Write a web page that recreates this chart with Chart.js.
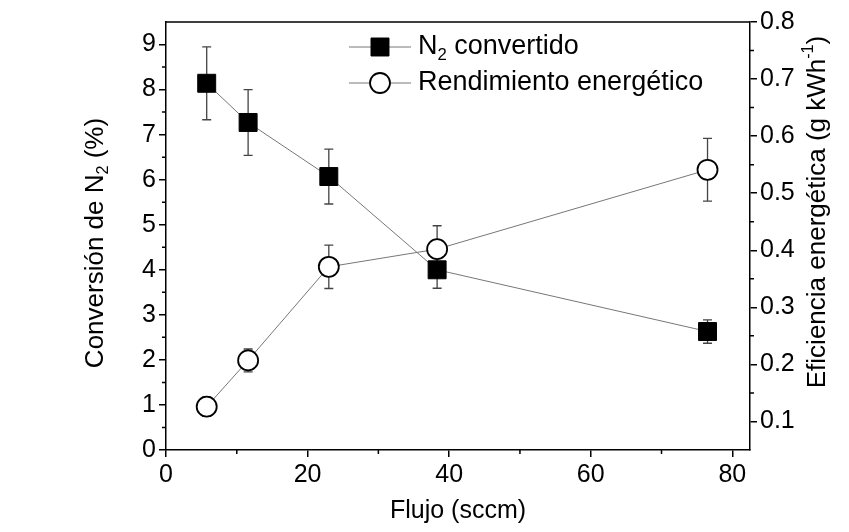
<!DOCTYPE html>
<html>
<head>
<meta charset="utf-8">
<script src="https://cdn.jsdelivr.net/npm/chart.js@4"></script>
<style>
  body { margin: 0; background: #fff; }
  #wrap { width: 849px; height: 532px; }
</style>
</head>
<body>
<div id="wrap"><canvas id="chartFlujo"></canvas></div>
<script>
// values
const flujo = [5.75, 11.6, 23.0, 38.3, 76.5];
const conversion = [8.14, 7.27, 6.07, 4.00, 2.63];
const conversionErr = [0.81, 0.73, 0.61, 0.41, 0.26];
const rendimiento = [0.126, 0.207, 0.371, 0.402, 0.541];
const rendimientoErr = [0.017, 0.020, 0.038, 0.041, 0.055];

const xTicks = [0, 20, 40, 60, 80];
const leftTicks = [0, 1, 2, 3, 4, 5, 6, 7, 8, 9];
const rightTicks = [0.1, 0.2, 0.3, 0.4, 0.5, 0.6, 0.7, 0.8];

const FONT = "'Liberation Sans', Arial, sans-serif";
const tickFont = { family: FONT, size: 25 };

function midpoints(arr) {
    const out = [];
    for (let i = 0; i < arr.length - 1; i++) out.push((arr[i] + arr[i + 1]) / 2);
    return out;
}

// text with sub/superscripts, centred on x
function drawRich(ctx, parts, x, y, size) {
    const widths = parts.map(p => {
        ctx.font = (p.sub || p.sup ? size * 0.62 : size) + "px " + FONT;
        return ctx.measureText(p.t).width;
    });
    let cx = x - widths.reduce((a, b) => a + b, 0) / 2;
    parts.forEach((p, i) => {
        ctx.font = (p.sub || p.sup ? size * 0.62 : size) + "px " + FONT;
        let dy = 0;
        if (p.sub) dy = size * 0.3;
        if (p.sup) dy = -size * 0.38;
        ctx.fillText(p.t, cx, y + dy);
        cx += widths[i];
    });
}

const framePlugin = {
    id: "frame",
    beforeDatasetsDraw(chart) {
        const ctx = chart.ctx;
        const errs = [conversionErr, rendimientoErr];
        ctx.save();
        chart.data.datasets.forEach((ds, di) => {
            const ys = chart.scales[ds.yAxisID];
            ctx.strokeStyle = "#444";
            ctx.lineWidth = 1.3;
            ds.data.forEach((p, i) => {
                const e = errs[di][i];
                const px = chart.scales.x.getPixelForValue(p.x);
                const top = ys.getPixelForValue(p.y + e);
                const bot = ys.getPixelForValue(p.y - e);
                ctx.beginPath();
                ctx.moveTo(px, top); ctx.lineTo(px, bot);
                ctx.moveTo(px - 4.5, top); ctx.lineTo(px + 4.5, top);
                ctx.moveTo(px - 4.5, bot); ctx.lineTo(px + 4.5, bot);
                ctx.stroke();
            });
        });
        ctx.restore();
    },
    afterDraw(chart) {
        const ctx = chart.ctx;
        const a = chart.chartArea;
        const { x, y, y1 } = chart.scales;
        ctx.save();
        ctx.strokeStyle = "#000";
        ctx.lineWidth = 1.5;
        ctx.beginPath();
        ctx.moveTo(a.left, a.top); ctx.lineTo(a.right, a.top);
        // minor ticks
        midpoints(xTicks).forEach(v => {
            const px = x.getPixelForValue(v);
            ctx.moveTo(px, a.bottom); ctx.lineTo(px, a.bottom + 4);
        });
        midpoints(leftTicks).forEach(v => {
            const py = y.getPixelForValue(v);
            ctx.moveTo(a.left, py); ctx.lineTo(a.left - 4, py);
        });
        midpoints(rightTicks).forEach(v => {
            const py = y1.getPixelForValue(v);
            ctx.moveTo(a.right, py); ctx.lineTo(a.right + 4, py);
        });
        ctx.stroke();

        // axis titles
        ctx.fillStyle = "#000";
        ctx.textBaseline = "middle";
        ctx.textAlign = "left";
        drawRich(ctx, [{ t: "Flujo (sccm)" }], (a.left + a.right) / 2, 511, 25);
        ctx.save();
        ctx.translate(96, 243);
        ctx.rotate(-Math.PI / 2);
        drawRich(ctx, [{ t: "Conversión de N" }, { t: "2", sub: true }, { t: " (%)" }], 0, 0, 26);
        ctx.restore();
        ctx.save();
        ctx.translate(818, 212);
        ctx.rotate(-Math.PI / 2);
        drawRich(ctx, [{ t: "Eficiencia energética (g kWh" }, { t: "-1", sup: true }, { t: ")" }], 0, 0, 26);
        ctx.restore();

        // legend: line through symbol
        const rows = [
            [{ t: "N" }, { t: "2", sub: true }, { t: " convertido" }],
            [{ t: "Rendimiento energético" }]
        ];
        chart.data.datasets.forEach((ds, i) => {
            const ly = 47 + i * 36;
            const sx = 380;
            ctx.strokeStyle = "#777";
            ctx.lineWidth = 1;
            ctx.beginPath();
            ctx.moveTo(sx - 31, ly); ctx.lineTo(sx + 31, ly);
            ctx.stroke();
            ctx.fillStyle = ds.pointBackgroundColor;
            ctx.strokeStyle = ds.pointBorderColor;
            ctx.lineWidth = ds.pointBorderWidth;
            ctx.beginPath();
            if (ds.pointStyle === "rect") {
                const h = ds.pointRadius * Math.SQRT1_2;
                ctx.rect(sx - h, ly - h, 2 * h, 2 * h);
            } else {
                ctx.arc(sx, ly, ds.pointRadius, 0, Math.PI * 2);
            }
            ctx.fill();
            ctx.stroke();
            ctx.fillStyle = "#000";
            ctx.textAlign = "left";
            let cx = 418;
            rows[i].forEach(p => {
                const size = p.sub ? 27 * 0.62 : 27;
                ctx.font = size + "px " + FONT;
                ctx.fillText(p.t, cx, ly + (p.sub ? 8 : 0));
                cx += ctx.measureText(p.t).width;
            });
        });
        ctx.restore();
    }
};

const axisCommon = {
    border: { display: true, color: "#000", width: 1.5 },
    grid: { drawOnChartArea: false, drawTicks: true, tickLength: 7, color: "#000", lineWidth: 1.5 },
    ticks: { color: "#000", font: tickFont, padding: 3, callback: v => String(v) }
};

new Chart(document.getElementById("chartFlujo"), {
    type: "line",
    data: {
        datasets: [
            {
                label: "N2 convertido",
                data: flujo.map((f, i) => ({ x: f, y: conversion[i] })),
                yAxisID: "y",
                borderColor: "#777",
                borderWidth: 1,
                pointStyle: "rect",
                pointRadius: 12.7,
                pointBackgroundColor: "#000",
                pointBorderColor: "#000",
                pointBorderWidth: 1,
                tension: 0
            },
            {
                label: "Rendimiento energético",
                data: flujo.map((f, i) => ({ x: f, y: rendimiento[i] })),
                yAxisID: "y1",
                borderColor: "#777",
                borderWidth: 1,
                pointStyle: "circle",
                pointRadius: 10,
                pointBackgroundColor: "#fff",
                pointBorderColor: "#000",
                pointBorderWidth: 1.8,
                tension: 0
            }
        ]
    },
    options: {
        responsive: true,
        maintainAspectRatio: false,
        animation: false,
        layout: { padding: { top: 22, left: 0, right: 0, bottom: 0 } },
        plugins: { legend: { display: false }, tooltip: { enabled: false } },
        scales: {
            x: {
                ...axisCommon,
                type: "linear",
                position: "bottom",
                min: 0,
                max: 82.5,
                afterBuildTicks: s => { s.ticks = xTicks.map(v => ({ value: v })); },
                afterFit: s => { s.height = 82; }
            },
            y: {
                ...axisCommon,
                position: "left",
                min: 0,
                max: 9.5,
                afterBuildTicks: s => { s.ticks = leftTicks.map(v => ({ value: v })); },
                afterFit: s => { s.width = 166; }
            },
            y1: {
                ...axisCommon,
                position: "right",
                min: 0.05,
                max: 0.8,
                afterBuildTicks: s => { s.ticks = rightTicks.map(v => ({ value: v })); },
                afterFit: s => { s.width = 99; }
            }
        }
    },
    plugins: [framePlugin]
});
</script>
</body>
</html>
